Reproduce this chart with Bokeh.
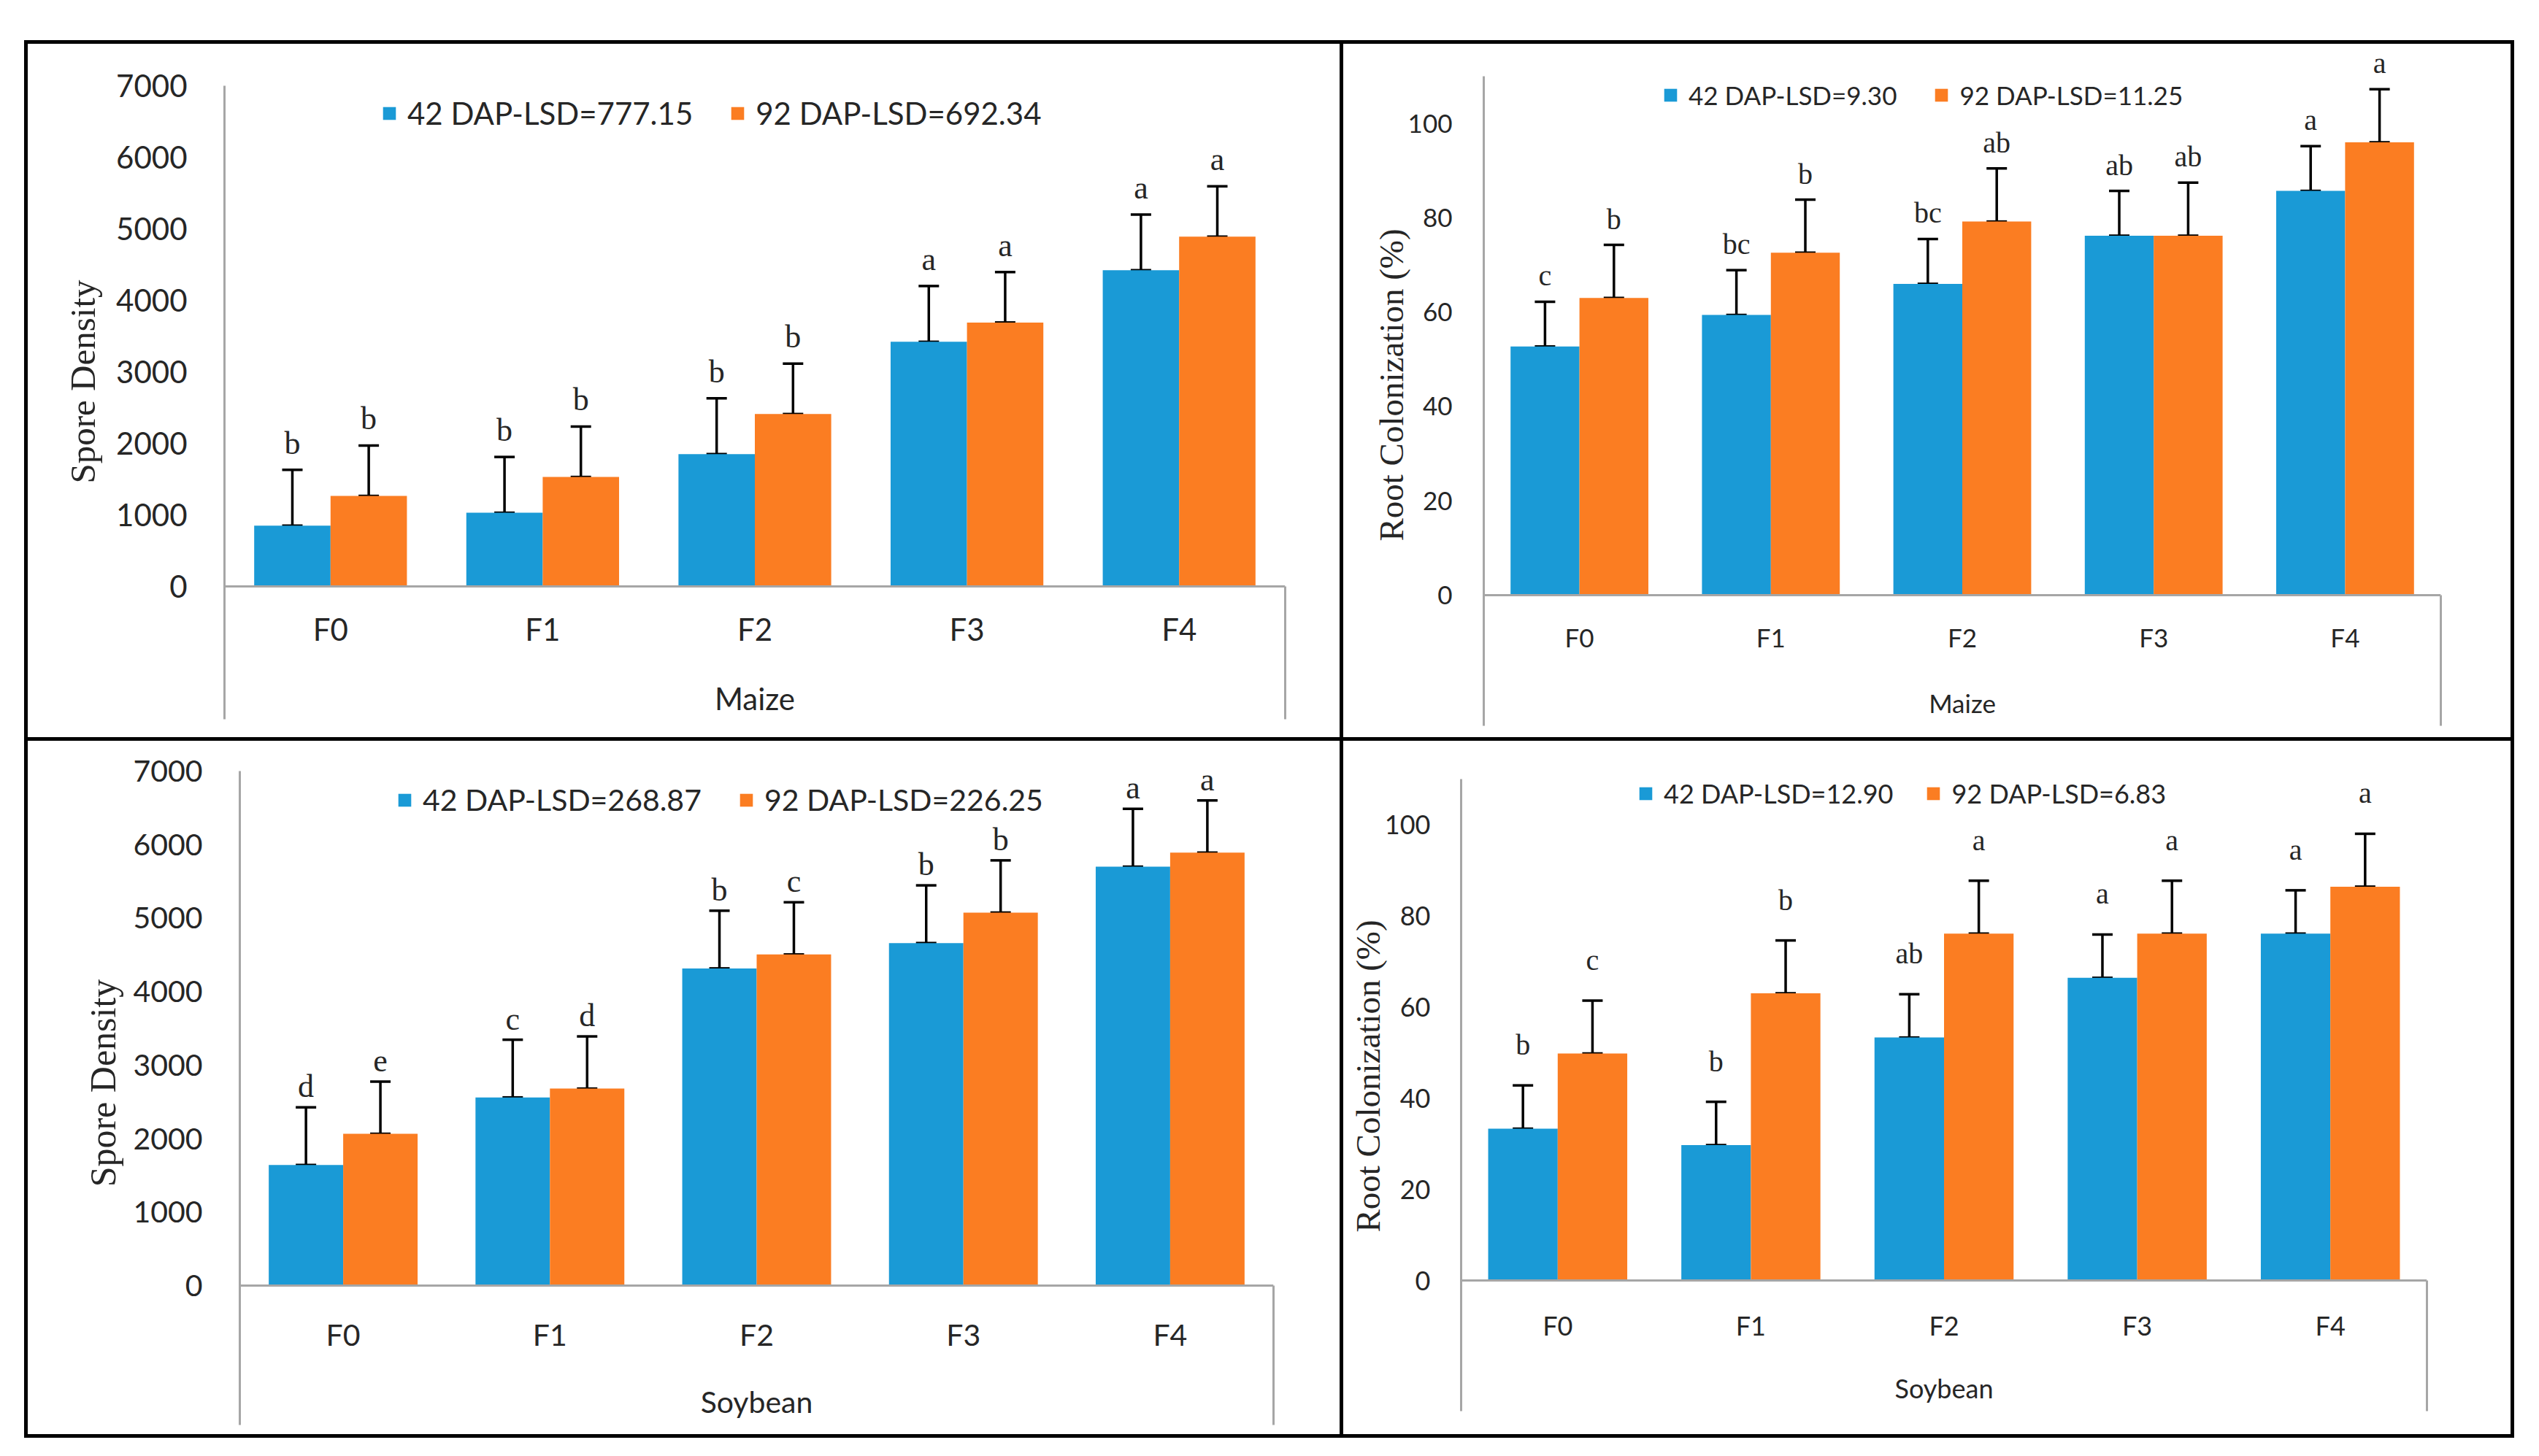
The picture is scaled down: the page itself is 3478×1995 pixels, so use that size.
from bokeh.plotting import figure
from bokeh.models import (ColumnDataSource, FactorRange, Range1d, FixedTicker, Whisker, TeeHead,
                          LabelSet, Legend, LegendItem, Span, GridBox, Spacer, LinearAxis)
from bokeh.layouts import column, row
from bokeh.transform import dodge
from bokeh.core.properties import value
from bokeh.embed import file_html
from bokeh.resources import INLINE

# ---------------- data ----------------
categories = ["F0", "F1", "F2", "F3", "F4"]

maize_spore_42 = [850, 1030, 1850, 3420, 4420]
maize_spore_92 = [1265, 1530, 2410, 3690, 4890]
maize_spore_42_err = [780, 780, 780, 780, 780]
maize_spore_92_err = [705, 705, 705, 705, 705]
maize_spore_42_letters = ["b", "b", "b", "a", "a"]
maize_spore_92_letters = ["b", "b", "b", "a", "a"]

maize_root_42 = [52.7, 59.4, 66.0, 76.2, 85.7]
maize_root_92 = [63.0, 72.6, 79.2, 76.2, 96.0]
maize_root_42_err = [9.5, 9.5, 9.5, 9.5, 9.5]
maize_root_92_err = [11.25, 11.25, 11.25, 11.25, 11.25]
maize_root_42_letters = ["c", "bc", "bc", "ab", "a"]
maize_root_92_letters = ["b", "b", "ab", "ab", "a"]

soy_spore_42 = [1640, 2560, 4315, 4660, 5700]
soy_spore_92 = [2065, 2680, 4505, 5075, 5890]
soy_spore_42_err = [785, 785, 785, 785, 785]
soy_spore_92_err = [710, 710, 710, 710, 710]
soy_spore_42_letters = ["d", "c", "b", "b", "a"]
soy_spore_92_letters = ["e", "d", "c", "b", "a"]

soy_root_42 = [33.3, 29.7, 53.3, 66.4, 76.1]
soy_root_92 = [49.8, 63.0, 76.1, 76.1, 86.4]
soy_root_42_err = [9.5, 9.5, 9.5, 9.5, 9.5]
soy_root_92_err = [11.6, 11.6, 11.6, 11.6, 11.6]
soy_root_42_letters = ["b", "b", "ab", "a", "a"]
soy_root_92_letters = ["c", "b", "a", "a", "a"]

spore_ticks = [0, 1000, 2000, 3000, 4000, 5000, 6000, 7000]
root_ticks = [0, 20, 40, 60, 80, 100]

BLUE = "#1A9AD6"
ORANGE = "#FB7D22"
GRAY = "#A6A6A6"
TXT = "#262626"
SANS = "Lato"
SERIF = "Liberation Serif"
FRAME_TOP = 0


def make_panel(name, crop, ylabel, v42, v92, e42, e92, l42, l92, leg42, leg92, ticks, c):
    p = figure(x_range=FactorRange(*categories, range_padding=0),
               y_range=Range1d(c["y0"], c["y1"]), name=name, title=None,
               width=c["w"], height=c["h"], output_backend="svg", toolbar_location=None,
               min_border_left=c["left"], min_border_right=c["right"],
               min_border_top=c["top"], min_border_bottom=c["bottom"])
    p.outline_line_color = None
    p.grid.visible = False
    p.xaxis.visible = False
    p.background_fill_color = "white"
    p.border_fill_color = "white"

    ya = p.yaxis[0]
    ya.bounds = (c["y0"], c["axis_top"])
    ya.ticker = FixedTicker(ticks=ticks)
    ya.major_tick_line_color = None
    ya.minor_tick_line_color = None
    ya.axis_line_color = GRAY
    ya.axis_line_width = 3
    ya.major_label_text_font = SANS
    ya.major_label_text_font_size = f"{c['fs']}px"
    ya.major_label_text_color = TXT
    ya.major_label_standoff = c["tick_standoff"]
    ya.axis_label = ylabel
    ya.axis_label_text_font = SERIF
    ya.axis_label_text_font_style = "normal"
    ya.axis_label_text_font_size = f"{c['yl_fs']}px"
    ya.axis_label_text_color = TXT
    ya.axis_label_standoff = c["label_standoff"]

    ra = LinearAxis(bounds=(c["y0"], 0), ticker=FixedTicker(ticks=[]),
                    major_tick_line_color=None, minor_tick_line_color=None,
                    major_tick_out=0, major_label_standoff=0, axis_label_standoff=0,
                    major_label_text_font_size="0px", axis_line_color=GRAY, axis_line_width=3)
    p.add_layout(ra, "right")

    src = ColumnDataSource(dict(
        x=categories, v42=v42, v92=v92,
        u42=[a + b for a, b in zip(v42, e42)], u92=[a + b for a, b in zip(v92, e92)],
        l42=l42, l92=l92, zero=[0] * len(categories)))

    r42 = p.vbar(x=dodge("x", -0.18, range=p.x_range), top="v42", width=0.36, source=src,
                 fill_color=BLUE, line_color=None)
    r92 = p.vbar(x=dodge("x", 0.18, range=p.x_range), top="v92", width=0.36, source=src,
                 fill_color=ORANGE, line_color=None)

    p.add_layout(Span(location=0, dimension="width", line_color=GRAY, line_width=3))

    for off, up, low in ((-0.18, "u42", "v42"), (0.18, "u92", "v92")):
        w = Whisker(source=src, base=dodge("x", off, range=p.x_range), upper=up, lower=low,
                    dimension="height", line_color="black", line_width=3.5,
                    upper_head=TeeHead(size=28, line_width=3.5, line_color="black"),
                    lower_head=TeeHead(size=28, line_width=3.5, line_color="black"))
        p.add_layout(w)

    for off, up, lt in ((-0.18, "u42", "l42"), (0.18, "u92", "l92")):
        p.add_layout(LabelSet(source=src, x=dodge("x", off, range=p.x_range), y=up, text=lt,
                              y_offset=c["letter_off"], text_align="center",
                              text_baseline="alphabetic", text_font=value(SERIF),
                              text_font_size=value(f"{c['let_fs']}px"), text_color=TXT))

    p.add_layout(LabelSet(source=src, x="x", y="zero", text="x", y_offset=-c["cat_off"],
                          text_align="center", text_baseline="middle", text_font=value(SANS),
                          text_font_size=value(f"{c['fs']}px"), text_color=TXT))
    crop_src = ColumnDataSource(dict(x=[categories[len(categories) // 2]], y=[0], t=[crop]))
    p.add_layout(LabelSet(source=crop_src, x="x", y="y", text="t", y_offset=-c["xlab_off"],
                          text_align="center", text_baseline="middle", text_font=value(SANS),
                          text_font_size=value(f"{c['fs']}px"), text_color=TXT))

    leg = Legend(items=[LegendItem(label=leg42, renderers=[r42]),
                        LegendItem(label=leg92, renderers=[r92])],
                 orientation="horizontal", location=(c["leg_x"], c["leg_y"]),
                 glyph_width=22, glyph_height=22, label_height=22,
                 label_standoff=14, spacing=c["leg_spacing"], padding=0, margin=0,
                 border_line_color=None, background_fill_alpha=0,
                 label_text_font=SANS, label_text_font_size=f"{c['fs']}px",
                 label_text_color=TXT)
    p.add_layout(leg)
    return p


def cfg(w, h, left, right_px, axis_top_px, bottom_px, zero_px, unit_top, fs, let_fs, yl_fs,
        tick_standoff, label_standoff, cat_off, xlab_off, leg_x, leg_c, leg_spacing, letter_off):
    ppu = (zero_px - axis_top_px) / unit_top
    y0 = -(bottom_px - zero_px) / ppu
    y1 = (zero_px - FRAME_TOP) / ppu
    fh = bottom_px - FRAME_TOP
    return dict(w=w, h=h, left=left, right=w - right_px, top=FRAME_TOP, bottom=h - bottom_px,
                y0=y0, y1=y1, axis_top=unit_top, fs=fs, let_fs=let_fs, yl_fs=yl_fs,
                tick_standoff=tick_standoff, label_standoff=label_standoff,
                cat_off=cat_off, xlab_off=xlab_off, leg_x=leg_x,
                leg_y=fh - (axis_top_px + leg_c - FRAME_TOP) - 21,
                leg_spacing=leg_spacing, letter_off=letter_off)


c_tl = cfg(1797, 950, 269, 1722, 57, 925, 743, 7000, 42, 44, 49, 45, 15, 58, 153, 215, 42, 50, 22)
c_tr = cfg(1599, 950, 192, 1503, 44, 934, 755, 110, 35, 40, 47, 37, -6, 57, 147, 245, 26, 50, 22)
c_bl = cfg(1797, 950, 290, 1706, 41, 937, 746, 7000, 41, 44, 50, 45, 10, 67, 159, 215, 43, 50, 14)
c_br = cfg(1599, 950, 161, 1484, 52, 918, 739, 110, 36, 40, 47, 36, -6, 61, 147, 242, 21, 44, 42)

p1 = make_panel("p1", "Maize", "Spore Density", maize_spore_42, maize_spore_92,
                maize_spore_42_err, maize_spore_92_err, maize_spore_42_letters, maize_spore_92_letters,
                "42 DAP-LSD=777.15", "92 DAP-LSD=692.34", spore_ticks, c_tl)
p2 = make_panel("p2", "Maize", "Root Colonization (%)", maize_root_42, maize_root_92,
                maize_root_42_err, maize_root_92_err, maize_root_42_letters, maize_root_92_letters,
                "42 DAP-LSD=9.30", "92 DAP-LSD=11.25", root_ticks, c_tr)
p3 = make_panel("p3", "Soybean", "Spore Density", soy_spore_42, soy_spore_92,
                soy_spore_42_err, soy_spore_92_err, soy_spore_42_letters, soy_spore_92_letters,
                "42 DAP-LSD=268.87", "92 DAP-LSD=226.25", spore_ticks, c_bl)
p4 = make_panel("p4", "Soybean", "Root Colonization (%)", soy_root_42, soy_root_92,
                soy_root_42_err, soy_root_92_err, soy_root_42_letters, soy_root_92_letters,
                "42 DAP-LSD=12.90", "92 DAP-LSD=6.83", root_ticks, c_br)

white = {"background-color": "white"}
grid = GridBox(children=[(column(p1, styles=white), 0, 0), (column(p2, styles=white), 0, 1),
                         (column(p3, styles=white), 1, 0), (column(p4, styles=white), 1, 1)],
               spacing=5, styles={"background-color": "black", "padding": "5px"})

layout = column(Spacer(height=55), row(Spacer(width=33), grid))

open("out.html", "w").write(file_html(layout, INLINE))
